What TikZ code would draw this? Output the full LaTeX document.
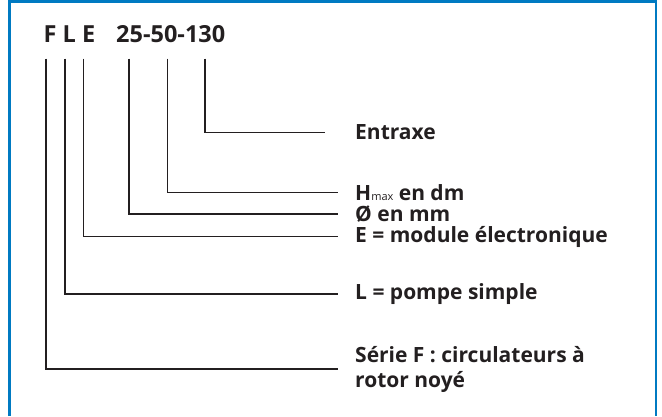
\documentclass[tikz,border=0pt]{standalone}
\usepackage{fontspec}
\setmainfont{Open Sans}
\usetikzlibrary{positioning}
\definecolor{frameblue}{RGB}{0,122,194}
\definecolor{ink}{RGB}{35,31,32}

\begin{document}
\begin{tikzpicture}[x=1pt,y=-1pt,
  lead/.style={draw=ink, line width=1.6pt},
  lbl/.style={anchor=west, inner xsep=17pt, inner ysep=0pt, text=ink, font=\bfseries\fontsize{21}{25}\selectfont, align=left},
  code/.style={anchor=base west, inner sep=0pt, text=ink, font=\bfseries\fontsize{23.5}{24}\selectfont}]
\useasboundingbox (0,0) rectangle (662,416);
% Frame
\draw[frameblue, line width=2.6pt] (9.5,416) -- (9.5,1.3) -- (655.8,1.3) -- (655.8,416);
% Type designation
\node[code] (fle) at (43.5,42) {F L E};
\node[code] (size) at (116,42) {25-50-130};
% Meanings
\node[lbl] (la) at (338,132.5) {Entraxe};
\node[lbl] (lh) at (338,192.5) {H{\fontsize{11}{11}\selectfont\mdseries max} en dm};
\node[lbl] (ld) at (338,214) {Ø en mm};
\node[lbl] (lE) at (338,236.5) {E = module électronique};
\node[lbl] (lL) at (338,294) {L = pompe simple};
\node[lbl] (lF) at (338,369) {Série F : circulateurs à\\rotor noyé};
% Leader lines
\foreach \n/\x/\s in {F/45.7/0,L/64.7/0,E/83.3/0,d/128.7/0,h/167.3/0,a/204.7/13} {
  \coordinate (t\n) at (\x,58.5);
  \draw[lead, shorten >=\s pt] (t\n) |- (l\n.west);
}
\end{tikzpicture}
\end{document}
